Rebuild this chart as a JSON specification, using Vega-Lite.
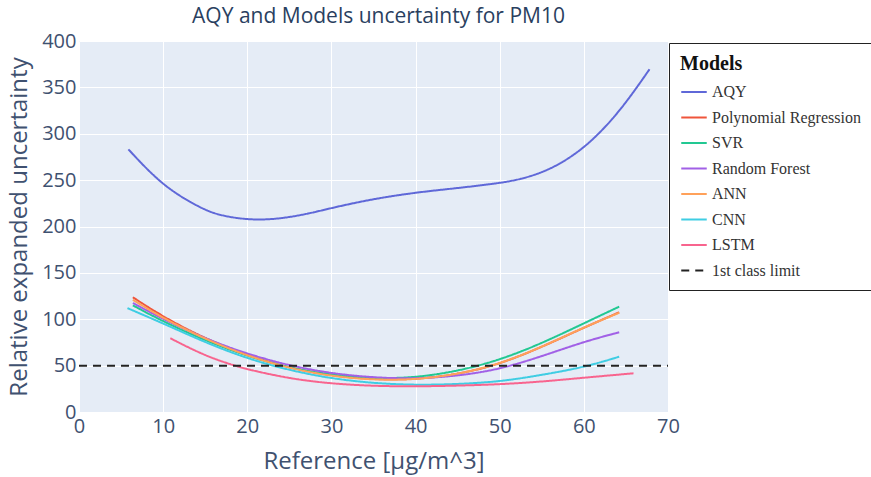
{
  "$schema": "https://vega.github.io/schema/vega-lite/v6.json",
  "autosize": {"type": "none"},
  "width": 589,
  "height": 371,
  "padding": {"left": 79, "top": 41, "right": 203, "bottom": 65},
  "background": "white",
  "title": {
    "text": "AQY and Models uncertainty for PM10",
    "font": "Open Sans",
    "fontSize": 21,
    "fontWeight": "normal",
    "color": "#2a3f5f",
    "anchor": "middle",
    "offset": 4,
    "dx": 5
  },
  "config": {
    "view": {"fill": "#E5ECF6", "stroke": null},
    "axis": {
      "domain": false,
      "ticks": false,
      "labelFlush": false,
      "gridColor": "white",
      "gridWidth": 1,
      "labelFont": "Open Sans",
      "labelFontSize": 20,
      "labelColor": "#3f5170",
      "titleFont": "Open Sans",
      "titleFontSize": 24,
      "titleFontWeight": "normal",
      "titleColor": "#3f5170"
    },
    "legend": {
      "fillColor": "white",
      "strokeColor": "#222222",
      "padding": 11,
      "titleFont": "Liberation Serif",
      "titleFontSize": 20,
      "titleFontWeight": "bold",
      "titleColor": "#111111",
      "titlePadding": 4,
      "labelFont": "Liberation Serif",
      "labelFontSize": 16,
      "labelColor": "#333333",
      "symbolType": "stroke",
      "symbolSize": 650,
      "symbolStrokeWidth": 2,
      "rowPadding": 3.5,
      "labelOffset": 4,
      "labelLimit": 300
    }
  },
  "data": {
    "values": [
      {"x": 5.87, "y": 283.2, "model": "AQY"},
      {"x": 10, "y": 243, "model": "AQY"},
      {"x": 14.5, "y": 219.6, "model": "AQY"},
      {"x": 16.5, "y": 212.4, "model": "AQY"},
      {"x": 20, "y": 207, "model": "AQY"},
      {"x": 23.6, "y": 207.7, "model": "AQY"},
      {"x": 27.5, "y": 214.2, "model": "AQY"},
      {"x": 30, "y": 220, "model": "AQY"},
      {"x": 34.8, "y": 229.5, "model": "AQY"},
      {"x": 40, "y": 236.7, "model": "AQY"},
      {"x": 44.6, "y": 241, "model": "AQY"},
      {"x": 50, "y": 246.7, "model": "AQY"},
      {"x": 52.5, "y": 251, "model": "AQY"},
      {"x": 55, "y": 258, "model": "AQY"},
      {"x": 57.5, "y": 269, "model": "AQY"},
      {"x": 60, "y": 285, "model": "AQY"},
      {"x": 62, "y": 302, "model": "AQY"},
      {"x": 64, "y": 322, "model": "AQY"},
      {"x": 66, "y": 346, "model": "AQY"},
      {"x": 67.8, "y": 369.5, "model": "AQY"},

      {"x": 6.4, "y": 123.7, "model": "Polynomial Regression"},
      {"x": 10, "y": 102.5, "model": "Polynomial Regression"},
      {"x": 15, "y": 79, "model": "Polynomial Regression"},
      {"x": 20, "y": 61, "model": "Polynomial Regression"},
      {"x": 25, "y": 47.5, "model": "Polynomial Regression"},
      {"x": 30, "y": 39, "model": "Polynomial Regression"},
      {"x": 35, "y": 35, "model": "Polynomial Regression"},
      {"x": 40, "y": 35, "model": "Polynomial Regression"},
      {"x": 45, "y": 40.5, "model": "Polynomial Regression"},
      {"x": 50, "y": 51.5, "model": "Polynomial Regression"},
      {"x": 55, "y": 70, "model": "Polynomial Regression"},
      {"x": 60, "y": 91, "model": "Polynomial Regression"},
      {"x": 64.2, "y": 107.5, "model": "Polynomial Regression"},

      {"x": 6.4, "y": 115, "model": "SVR"},
      {"x": 10, "y": 97.5, "model": "SVR"},
      {"x": 15, "y": 77, "model": "SVR"},
      {"x": 20, "y": 60, "model": "SVR"},
      {"x": 25, "y": 47.5, "model": "SVR"},
      {"x": 30, "y": 40, "model": "SVR"},
      {"x": 35, "y": 36, "model": "SVR"},
      {"x": 40, "y": 37, "model": "SVR"},
      {"x": 45, "y": 44, "model": "SVR"},
      {"x": 50, "y": 56, "model": "SVR"},
      {"x": 55, "y": 74, "model": "SVR"},
      {"x": 60, "y": 95.6, "model": "SVR"},
      {"x": 64.2, "y": 113.6, "model": "SVR"},

      {"x": 6.4, "y": 117.5, "model": "Random Forest"},
      {"x": 10, "y": 100, "model": "Random Forest"},
      {"x": 15, "y": 79, "model": "Random Forest"},
      {"x": 20, "y": 62.5, "model": "Random Forest"},
      {"x": 25, "y": 50, "model": "Random Forest"},
      {"x": 30, "y": 41.5, "model": "Random Forest"},
      {"x": 35, "y": 37, "model": "Random Forest"},
      {"x": 40, "y": 35.8, "model": "Random Forest"},
      {"x": 45, "y": 38.8, "model": "Random Forest"},
      {"x": 50, "y": 46, "model": "Random Forest"},
      {"x": 55, "y": 60, "model": "Random Forest"},
      {"x": 60, "y": 75.8, "model": "Random Forest"},
      {"x": 64.2, "y": 86, "model": "Random Forest"},

      {"x": 6.4, "y": 121, "model": "ANN"},
      {"x": 10, "y": 101, "model": "ANN"},
      {"x": 15, "y": 78.5, "model": "ANN"},
      {"x": 20, "y": 60.5, "model": "ANN"},
      {"x": 25, "y": 47, "model": "ANN"},
      {"x": 30, "y": 38.5, "model": "ANN"},
      {"x": 35, "y": 34.5, "model": "ANN"},
      {"x": 40, "y": 34.8, "model": "ANN"},
      {"x": 45, "y": 40.6, "model": "ANN"},
      {"x": 50, "y": 51.7, "model": "ANN"},
      {"x": 55, "y": 70, "model": "ANN"},
      {"x": 60, "y": 91.3, "model": "ANN"},
      {"x": 64.2, "y": 107, "model": "ANN"},

      {"x": 5.76, "y": 112, "model": "CNN"},
      {"x": 10, "y": 95.5, "model": "CNN"},
      {"x": 15, "y": 75, "model": "CNN"},
      {"x": 20, "y": 57.5, "model": "CNN"},
      {"x": 25, "y": 45, "model": "CNN"},
      {"x": 30, "y": 36, "model": "CNN"},
      {"x": 35, "y": 31, "model": "CNN"},
      {"x": 40, "y": 29, "model": "CNN"},
      {"x": 45, "y": 30, "model": "CNN"},
      {"x": 50, "y": 32.7, "model": "CNN"},
      {"x": 55, "y": 39.9, "model": "CNN"},
      {"x": 60, "y": 48.2, "model": "CNN"},
      {"x": 64.2, "y": 59.6, "model": "CNN"},

      {"x": 10.85, "y": 79.5, "model": "LSTM"},
      {"x": 15, "y": 60.4, "model": "LSTM"},
      {"x": 18.5, "y": 50, "model": "LSTM"},
      {"x": 20, "y": 46, "model": "LSTM"},
      {"x": 25, "y": 36, "model": "LSTM"},
      {"x": 30, "y": 30.5, "model": "LSTM"},
      {"x": 35, "y": 28, "model": "LSTM"},
      {"x": 40, "y": 27.5, "model": "LSTM"},
      {"x": 45, "y": 28.4, "model": "LSTM"},
      {"x": 50, "y": 29.8, "model": "LSTM"},
      {"x": 55, "y": 32.7, "model": "LSTM"},
      {"x": 60, "y": 37, "model": "LSTM"},
      {"x": 65.9, "y": 41.7, "model": "LSTM"},

      {"x": 0, "y": 50, "model": "1st class limit"},
      {"x": 70, "y": 50, "model": "1st class limit"}
    ]
  },
  "mark": {"type": "line", "strokeWidth": 2, "interpolate": "basis", "clip": true},
  "encoding": {
    "x": {
      "field": "x",
      "type": "quantitative",
      "title": "Reference [µg/m^3]",
      "scale": {"domain": [0, 70], "nice": false, "zero": false},
      "axis": {"values": [0, 10, 20, 30, 40, 50, 60, 70], "labelPadding": 4, "titlePadding": 13}
    },
    "y": {
      "field": "y",
      "type": "quantitative",
      "title": "Relative expanded uncertainty",
      "scale": {"domain": [0, 400], "nice": false},
      "axis": {"values": [0, 50, 100, 150, 200, 250, 300, 350, 400], "labelPadding": 3, "titlePadding": 10}
    },
    "color": {
      "field": "model",
      "type": "nominal",
      "title": "Models",
      "scale": {
        "domain": ["AQY", "Polynomial Regression", "SVR", "Random Forest", "ANN", "CNN", "LSTM", "1st class limit"],
        "range": ["#5f68d8", "#EF553B", "#22c892", "#a160e6", "#FFA15A", "#3fcde3", "#f8648e", "#222222"]
      },
      "legend": {
        "orient": "none",
        "legendX": 590,
        "legendY": 2,
        "direction": "vertical"
      }
    },
    "strokeDash": {
      "field": "model",
      "type": "nominal",
      "title": "Models",
      "scale": {
        "domain": ["AQY", "Polynomial Regression", "SVR", "Random Forest", "ANN", "CNN", "LSTM", "1st class limit"],
        "range": [[1, 0], [1, 0], [1, 0], [1, 0], [1, 0], [1, 0], [1, 0], [8, 6]]
      }
    },
    "order": {"field": "x", "type": "quantitative"}
  }
}
